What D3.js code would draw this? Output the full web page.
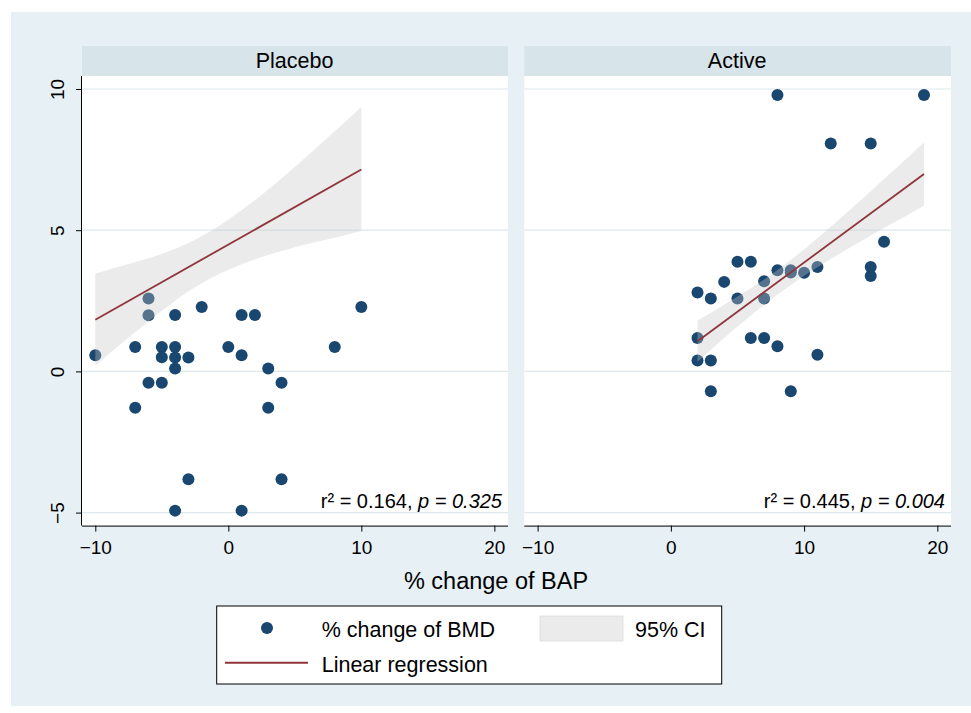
<!DOCTYPE html>
<html>
<head>
<meta charset="utf-8">
<script src="https://cdn.jsdelivr.net/npm/d3@7"></script>
<style>
  html, body { margin: 0; padding: 0; background: #ffffff; }
  svg { display: block; font-family: "Liberation Sans", Arial, Helvetica, sans-serif; }
</style>
</head>
<body>
<svg id="chart" width="971" height="713"></svg>
<script>
// ---------------- data ----------------
const panels = ["Placebo", "Active"];
const xTicks = [-10, 0, 10, 20];
const yTicks = [-5, 0, 5, 10];

const placeboX = [-10, -7, -6, -6, -4, -2, 1, 2, 10, -5, -5, -4, -4, -3, -4, 0, 1, 8, 3, -6, -5, 4, -7, 3, -3, 4, -4, 1];
const placeboY = [0.57, 0.86, 2.58, 1.99, 2.0, 2.28, 2.0, 2.0, 2.28, 0.86, 0.5, 0.86, 0.49, 0.49, 0.1, 0.86, 0.57, 0.86, 0.1, -0.4, -0.4, -0.4, -1.29, -1.29, -3.82, -3.82, -4.93, -4.93];

const activeX = [5, 6, 4, 2, 3, 5, 7, 7, 8, 9, 9, 10, 11, 15, 15, 2, 6, 7, 8, 11, 2, 3, 3, 9, 8, 19, 12, 15, 16];
const activeY = [3.88, 3.88, 3.17, 2.79, 2.58, 2.58, 3.19, 2.58, 3.58, 3.58, 3.5, 3.49, 3.7, 3.7, 3.38, 1.18, 1.18, 1.18, 0.89, 0.59, 0.39, 0.39, -0.7, -0.7, 9.79, 9.79, 8.07, 8.07, 4.59];

// fitted regression lines (end points)
const placeboFitX = [-10, 10];
const placeboFitY = [1.83, 7.15];
const activeFitX = [2, 19];
const activeFitY = [1.07, 6.99];

// 95% CI band
const placeboBandX  = [-10, -7.5, -5, -2.5, 0, 2.5, 5, 7.5, 10];
const placeboBandLo = [0.2, 1.2, 2.15, 2.98, 3.6, 4.05, 4.4, 4.68, 4.97];
const placeboBandHi = [3.46, 3.8, 4.16, 4.66, 5.37, 6.25, 7.24, 8.29, 9.36];

const activeBandX  = [2, 4, 6, 8, 10, 12, 14, 16, 18, 19];
const activeBandLo = [0.34, 1.18, 1.98, 2.72, 3.39, 3.98, 4.54, 5.08, 5.6, 5.87];
const activeBandHi = [1.8, 2.36, 2.94, 3.59, 4.32, 5.12, 5.95, 6.81, 7.67, 8.11];

const r2Values = ["0.164", "0.445"];
const pValues = ["0.325", "0.004"];

const xTitle = "% change of BAP";
const legendLabels = ["% change of BMD", "95% CI", "Linear regression"];

// ---------------- styles ----------------
const navy = "#1a476f";
const maroon = "#90353b";
const outerBg = "#e7f0f4";
const stripBg = "#d7e4ea";
const gridCol = "#dde9ed";

const svg = d3.select("#chart");

svg.append("rect").attr("x", 11).attr("y", 12).attr("width", 960).attr("height", 694).attr("fill", outerBg);

const panelData = [
  { name: panels[0], xs: placeboX, ys: placeboY, fx: placeboFitX, fy: placeboFitY,
    bx: placeboBandX, blo: placeboBandLo, bhi: placeboBandHi, r2: r2Values[0], p: pValues[0],
    left: 82, right: 507, yAxis: true },
  { name: panels[1], xs: activeX, ys: activeY, fx: activeFitX, fy: activeFitY,
    bx: activeBandX, blo: activeBandLo, bhi: activeBandHi, r2: r2Values[1], p: pValues[1],
    left: 524.3, right: 950, yAxis: false }
];

const plotTop = 76, plotBottom = 525.6;
const y = d3.scaleLinear().domain([-5.46, 10.46]).range([plotBottom, plotTop]);

panelData.forEach(pd => {
  const x = d3.scaleLinear().domain([-11, 20.95]).range([pd.left, pd.right]);
  const g = svg.append("g");

  // strip
  g.append("rect").attr("x", pd.left).attr("y", 46).attr("width", pd.right - pd.left + 1).attr("height", 30).attr("fill", stripBg);
  g.append("text").attr("x", (pd.left + pd.right) / 2).attr("y", 68).attr("text-anchor", "middle")
    .attr("font-size", 21.5).attr("fill", "#000").text(pd.name);

  // plot region
  g.append("rect").attr("x", pd.left).attr("y", plotTop).attr("width", pd.right - pd.left + 1).attr("height", plotBottom - plotTop).attr("fill", "#ffffff");

  // gridlines
  g.selectAll("line.grid").data(yTicks).enter().append("line")
    .attr("x1", pd.left).attr("x2", pd.right + 1)
    .attr("y1", d => y(d)).attr("y2", d => y(d))
    .attr("stroke", gridCol).attr("stroke-width", 1.2);

  // points
  g.selectAll("circle.pt").data(pd.xs.map((v, i) => [v, pd.ys[i]])).enter().append("circle")
    .attr("cx", d => x(d[0])).attr("cy", d => y(d[1])).attr("r", 6).attr("fill", navy);

  // CI band
  const band = pd.bx.map((v, i) => ({ x: v, lo: pd.blo[i], hi: pd.bhi[i] }));
  const area = d3.area().x(d => x(d.x)).y0(d => y(d.lo)).y1(d => y(d.hi)).curve(d3.curveNatural);
  g.append("path").attr("d", area(band)).attr("fill", "#c6c6c6").attr("fill-opacity", 0.35);

  // regression line
  const line = d3.line().x(d => x(d[0])).y(d => y(d[1]));
  g.append("path").attr("d", line(pd.fx.map((v, i) => [v, pd.fy[i]])))
    .attr("fill", "none").attr("stroke", maroon).attr("stroke-width", 1.8);

  // x axis
  const xAxis = d3.axisBottom(x).tickValues(xTicks).tickSize(6).tickPadding(4)
    .tickFormat(d => d < 0 ? "\u2212" + Math.abs(d) : String(d));
  const ax = g.append("g").attr("transform", `translate(0,${plotBottom})`).call(xAxis);
  ax.select(".domain").attr("d", `M${pd.left},0.5H${pd.right + 1}`).attr("stroke", "#000");
  ax.selectAll(".tick line").attr("stroke", "#000");
  ax.selectAll(".tick text").attr("font-size", 19).attr("font-family", "Liberation Sans, Arial, sans-serif").attr("fill", "#000").attr("dy", "0.95em");

  // y axis
  if (pd.yAxis) {
    const yAxis = d3.axisLeft(y).tickValues(yTicks).tickSize(6).tickPadding(4)
      .tickFormat(d => d < 0 ? "\u2212" + Math.abs(d) : String(d));
    const ay = g.append("g").attr("transform", `translate(${pd.left},0)`).call(yAxis);
    ay.select(".domain").attr("d", `M-0.5,${plotTop}V${plotBottom}`).attr("stroke", "#000");
    ay.selectAll(".tick line").attr("stroke", "#000");
    ay.selectAll(".tick text")
      .attr("font-size", 19).attr("font-family", "Liberation Sans, Arial, sans-serif").attr("fill", "#000")
      .attr("x", null).attr("dy", null)
      .attr("text-anchor", "middle")
      .attr("transform", "translate(-18,0) rotate(-90)");
  }

  // annotation
  const t = g.append("text").attr("x", pd.right - 5).attr("y", 508).attr("text-anchor", "end")
    .attr("font-size", 20).attr("fill", "#000");
  t.append("tspan").text("r\u00B2 = " + pd.r2 + ", ");
  t.append("tspan").attr("font-style", "italic").text("p = " + pd.p);
});

// x axis title
svg.append("text").attr("x", 496).attr("y", 589).attr("text-anchor", "middle")
  .attr("font-size", 23.5).attr("fill", "#000").text(xTitle);

// legend
const lg = svg.append("g");
lg.append("rect").attr("x", 216.7).attr("y", 606).attr("width", 505).attr("height", 78)
  .attr("fill", "#ffffff").attr("stroke", "#000").attr("stroke-width", 1);
lg.append("circle").attr("cx", 267).attr("cy", 628).attr("r", 6).attr("fill", navy);
lg.append("text").attr("x", 321.7).attr("y", 637).attr("font-size", 21.5).attr("fill", "#000").text(legendLabels[0]);
lg.append("rect").attr("x", 540).attr("y", 616).attr("width", 83).attr("height", 25)
  .attr("fill", "#c6c6c6").attr("fill-opacity", 0.35).attr("stroke", "#dddddd").attr("stroke-width", 0.8);
lg.append("text").attr("x", 635).attr("y", 637).attr("font-size", 21.5).attr("fill", "#000").text(legendLabels[1]);
lg.append("line").attr("x1", 225).attr("x2", 308).attr("y1", 662.7).attr("y2", 662.7)
  .attr("stroke", maroon).attr("stroke-width", 2);
lg.append("text").attr("x", 321.7).attr("y", 672).attr("font-size", 21.5).attr("fill", "#000").text(legendLabels[2]);
</script>
</body>
</html>
